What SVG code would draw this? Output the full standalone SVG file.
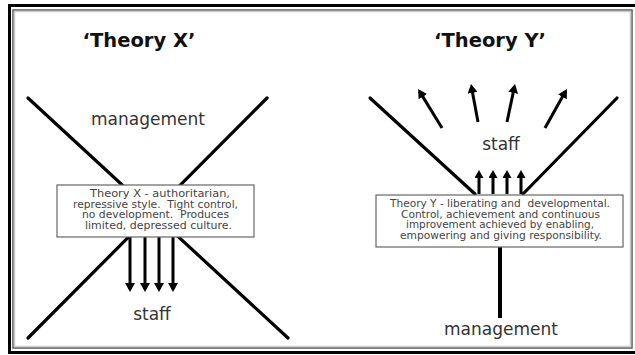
<svg xmlns="http://www.w3.org/2000/svg" width="635" height="355" viewBox="0 0 635 355">
<style>
.title{font-family:"DejaVu Sans",Verdana,sans-serif;font-weight:bold;font-size:19.5px;fill:#111;text-anchor:middle}
.lbl{font-family:"DejaVu Sans",Verdana,sans-serif;font-size:17px;fill:#333;text-anchor:middle}
.box{fill:#fff;stroke:#666;stroke-width:1.2}
.bt{font-family:"DejaVu Sans",Verdana,sans-serif;font-size:10.5px;fill:#444;text-anchor:middle;white-space:pre}
.ln{stroke:#000;stroke-width:3.2;fill:none;stroke-linecap:round}
.ar{stroke:#000;stroke-width:3;fill:none}
</style>
<defs>
<marker id="ah" markerUnits="userSpaceOnUse" markerWidth="10" markerHeight="10" refX="6" refY="5" orient="auto">
<path d="M0,0 L9,5 L0,10 z" fill="#000"/>
</marker>
<marker id="ahs" markerUnits="userSpaceOnUse" markerWidth="9" markerHeight="9" refX="5" refY="4.5" orient="auto">
<path d="M0,0 L8,4.5 L0,9 z" fill="#000"/>
</marker>
</defs>
<rect x="0" y="0" width="635" height="355" fill="#fff"/>
<g id="frame">
<rect x="9.5" y="5.5" width="640" height="347" fill="none" stroke="#000" stroke-width="3"/>
<rect x="13" y="10" width="619" height="338" fill="none" stroke="#555" stroke-width="1.5"/>
<rect x="14.5" y="11.5" width="616" height="335" fill="none" stroke="#ccc" stroke-width="1.5"/>
</g>
<g id="connectors">
<line class="ln" x1="28" y1="98" x2="288" y2="338"/>
<line class="ln" x1="267" y1="98" x2="28" y2="338"/>
<line class="ar" x1="130" y1="237" x2="130" y2="289" marker-end="url(#ah)"/>
<line class="ar" x1="145" y1="237" x2="145" y2="289" marker-end="url(#ah)"/>
<line class="ar" x1="159" y1="237" x2="159" y2="289" marker-end="url(#ah)"/>
<line class="ar" x1="173" y1="237" x2="173" y2="289" marker-end="url(#ah)"/>
<line class="ln" x1="370" y1="98" x2="475" y2="194"/>
<line class="ln" x1="617" y1="98" x2="523" y2="194"/>
<line class="ar" x1="479" y1="194" x2="479" y2="173" marker-end="url(#ahs)"/>
<line class="ar" x1="493" y1="194" x2="493" y2="173" marker-end="url(#ahs)"/>
<line class="ar" x1="507" y1="194" x2="507" y2="173" marker-end="url(#ahs)"/>
<line class="ar" x1="521" y1="194" x2="521" y2="173" marker-end="url(#ahs)"/>
<line class="ar" x1="442" y1="128" x2="419.7" y2="91.6" marker-end="url(#ah)"/>
<line class="ar" x1="478" y1="122" x2="471.5" y2="87" marker-end="url(#ah)"/>
<line class="ar" x1="507" y1="122" x2="514.4" y2="87" marker-end="url(#ah)"/>
<line class="ar" x1="545" y1="128" x2="565.4" y2="91.6" marker-end="url(#ah)"/>
<line x1="500" y1="247" x2="500" y2="318" stroke="#000" stroke-width="4"/>
</g>
<g id="theory-x-title"><text class="title" x="139" y="47">‘Theory X’</text></g>
<g id="theory-y-title"><text class="title" x="490" y="47">‘Theory Y’</text></g>
<g id="x-management"><text class="lbl" x="148" y="125">management</text></g>
<g id="x-staff"><text class="lbl" x="152" y="320">staff</text></g>
<g id="y-staff"><text class="lbl" x="501" y="150">staff</text></g>
<g id="y-management"><text class="lbl" x="501" y="335">management</text></g>
<g id="x-box">
<rect class="box" x="57" y="185" width="197" height="52"/>
<text class="bt" x="160" y="197" textLength="140" lengthAdjust="spacingAndGlyphs">Theory X - authoritarian,</text>
<text class="bt" x="155.5" y="207.5" textLength="165" lengthAdjust="spacingAndGlyphs">repressive style.  Tight control,</text>
<text class="bt" x="155.5" y="218" textLength="147" lengthAdjust="spacingAndGlyphs">no development.  Produces</text>
<text class="bt" x="158.5" y="228.5" textLength="147" lengthAdjust="spacingAndGlyphs">limited, depressed culture.</text>
</g>
<g id="y-box">
<rect class="box" x="376" y="195" width="247" height="52"/>
<text class="bt" x="500" y="207" textLength="220" lengthAdjust="spacingAndGlyphs">Theory Y - liberating and  developmental.</text>
<text class="bt" x="500.5" y="217.5" textLength="199" lengthAdjust="spacingAndGlyphs">Control, achievement and continuous</text>
<text class="bt" x="500" y="228" textLength="188" lengthAdjust="spacingAndGlyphs">improvement achieved by enabling,</text>
<text class="bt" x="501" y="238.5" textLength="202" lengthAdjust="spacingAndGlyphs">empowering and giving responsibility.</text>
</g>
</svg>
